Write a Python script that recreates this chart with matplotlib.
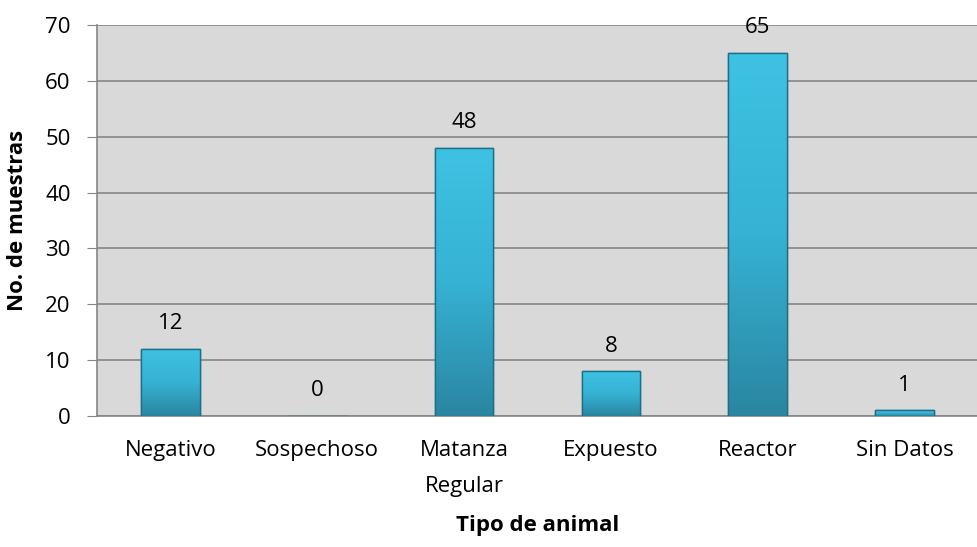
import matplotlib
matplotlib.use("Agg")
import matplotlib.pyplot as plt
import numpy as np
from matplotlib.colors import LinearSegmentedColormap

categories = ["Negativo", "Sospechoso", "Matanza\nRegular", "Expuesto", "Reactor", "Sin Datos"]
values = [12, 0, 48, 8, 65, 1]
yticks = [0, 10, 20, 30, 40, 50, 60, 70]

plt.rcParams['font.family'] = ['Open Sans', 'DejaVu Sans']
FS = 16

fig = plt.figure(figsize=(9.78, 5.47), dpi=100)
ax = fig.add_axes([97/978, 131/547, 881/978, 391/547])
ax.set_facecolor('#d9d9d9')

x = np.arange(len(categories))
bars = ax.bar(x, values, width=0.4, color='#33add0', edgecolor='#1d6e86', linewidth=1.0, zorder=3)

grad = np.linspace(0, 1, 256).reshape(-1, 1)
cmap = LinearSegmentedColormap.from_list('b', ['#2a86a1', '#36b2d4', '#3ec2e3'])
for b in bars:
    h = b.get_height()
    if h <= 0:
        continue
    x0 = b.get_x(); w = b.get_width()
    im = ax.imshow(grad, extent=[x0, x0 + w, 0, h], aspect='auto', cmap=cmap, origin='lower', zorder=3.5)
    im.set_clip_path(b)
    ax.bar(x0 + w/2, h, width=w, fill=False, edgecolor='#1d6e86', linewidth=1.0, zorder=4)

for xi, v in zip(x, values):
    ax.annotate(str(v), (xi, v), xytext=(0, 18), textcoords='offset points',
                ha='center', va='center', fontsize=FS, color='black', zorder=5,
                annotation_clip=False)

ax.set_xlim(-0.5, len(categories) - 0.5)
ax.set_ylim(0, 70)
ax.set_yticks(yticks)
ax.set_xticks(x)
ax.set_xticklabels(categories, fontsize=FS, linespacing=1.95)
ax.tick_params(axis='y', labelsize=FS, length=7, color='#868686', pad=12)
ax.tick_params(axis='x', length=0, pad=17)
ax.grid(axis='y', color='#868686', linewidth=1.2, zorder=1)
for s in ['top', 'right']:
    ax.spines[s].set_visible(False)
for s in ['left', 'bottom']:
    ax.spines[s].set_color('#868686')
    ax.spines[s].set_linewidth(1.2)

fig.text(538/978, 1 - 525/547, "Tipo de animal", ha='center', va='center', fontsize=FS, fontweight='bold')
fig.text(18/978, 1 - 220/547, "No. de muestras", ha='center', va='center', rotation=90, fontsize=FS, fontweight='bold')

fig.savefig("out.png", dpi=100)
